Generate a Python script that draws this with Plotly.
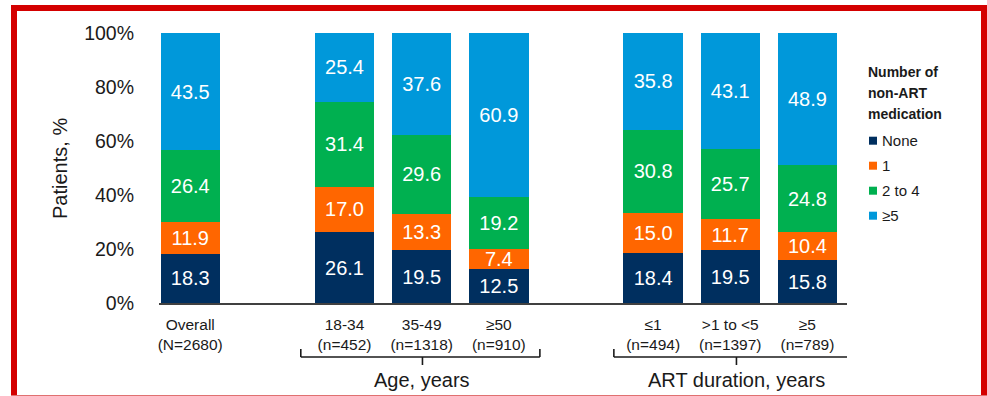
import plotly.graph_objects as go

# ---------------- data ----------------
categories = ["Overall<br>(N=2680)", "18-34<br>(n=452)", "35-49<br>(n=1318)", "≥50<br>(n=910)",
              "≤1<br>(n=494)", ">1 to <5<br>(n=1397)", "≥5<br>(n=789)"]
series_names = ["None", "1", "2 to 4", "≥5"]
none_vals = [18.3, 26.1, 19.5, 12.5, 18.4, 19.5, 15.8]
one_vals = [11.9, 17.0, 13.3, 7.4, 15.0, 11.7, 10.4]
two_four_vals = [26.4, 31.4, 29.6, 19.2, 30.8, 25.7, 24.8]
five_plus_vals = [43.5, 25.4, 37.6, 60.9, 35.8, 43.1, 48.9]
y_ticks = [0, 20, 40, 60, 80, 100]
y_tick_labels = ["0%", "20%", "40%", "60%", "80%", "100%"]
group_labels = ["Age, years", "ART duration, years"]
legend_title_lines = ["Number of", "non-ART", "medication"]

# ---------------- layout / style ----------------
x_slots = [0, 2, 3, 4, 6, 7, 8]
colors = ["#002F5F", "#FF6600", "#00B050", "#0098DA"]
FONT = "Arial, Liberation Sans, sans-serif"
W, H = 987, 396
L, R, T, B = 159, 140, 33, 93
PW, PH = W - L - R, H - T - B


def px_x(px):
    return (px - L) / PW


def px_y(py):
    return (T + PH - py) / PH


fig = go.Figure()
for name, vals, col in zip(series_names,
                           [none_vals, one_vals, two_four_vals, five_plus_vals], colors):
    fig.add_trace(go.Bar(
        x=x_slots, y=vals, name=name, marker=dict(color=col, line=dict(width=0)),
        width=0.77, text=[f"{v:.1f}" for v in vals], textposition="inside",
        insidetextanchor="middle", textangle=0,
        textfont=dict(color="white", size=20, family=FONT),
        showlegend=False, hoverinfo="skip"))

fig.update_layout(
    barmode="stack", barnorm="percent",
    width=W, height=H, margin=dict(l=L, r=R, t=T, b=B, autoexpand=False),
    paper_bgcolor="white", plot_bgcolor="white",
    font=dict(family=FONT, color="#1a1a1a"),
    uniformtext=dict(minsize=20, mode="show"),
    xaxis=dict(range=[-0.405, 8.513], tickmode="array", tickvals=x_slots, ticktext=categories,
               showgrid=False, zeroline=False, showline=True, linecolor="#404040",
               linewidth=2, ticks="", tickfont=dict(size=15.5, family=FONT, color="#1a1a1a"),
               ticklabelstandoff=6, fixedrange=True),
    yaxis=dict(range=[0, 100], tickmode="array", tickvals=y_ticks, ticktext=y_tick_labels,
               showgrid=False, zeroline=False, showline=False, ticks="",
               tickfont=dict(size=19.5, family=FONT, color="#1a1a1a"),
               ticklabelstandoff=24, fixedrange=True),
)

ann = []
shapes = []
# y-axis title
ann.append(dict(text="Patients, %", x=px_x(60), y=px_y(169), xref="paper", yref="paper",
                textangle=-90, showarrow=False, xanchor="center", yanchor="middle",
                font=dict(size=20, family=FONT, color="#1a1a1a")))

# group brackets (data x, paper y)
brackets = [(1.433, 4.532, 3.01, 3.01), (5.491, 8.603, 7.08, 7.075)]
for (x0, x1, xc, xt), lab in zip(brackets, group_labels):
    line = dict(color="#1a1a1a", width=1.6)
    yh, yt, yb = px_y(357), px_y(349), px_y(365)
    shapes += [
        dict(type="line", xref="x", yref="paper", x0=x0, x1=x1, y0=yh, y1=yh, line=line),
        dict(type="line", xref="x", yref="paper", x0=x0, x1=x0, y0=yh, y1=yt, line=line),
        dict(type="line", xref="x", yref="paper", x0=x1, x1=x1, y0=yh, y1=yt, line=line),
        dict(type="line", xref="x", yref="paper", x0=xc, x1=xc, y0=yh, y1=yb, line=line),
    ]
    ann.append(dict(text=lab, x=xt, y=px_y(380), xref="x", yref="paper", showarrow=False,
                    xanchor="center", yanchor="middle",
                    font=dict(size=20, family=FONT, color="#1a1a1a")))

# legend (manual)
for i, line_txt in enumerate(legend_title_lines):
    ann.append(dict(text=f"<b>{line_txt}</b>", x=px_x(866), y=px_y(72 + 21 * i),
                    xref="paper", yref="paper", showarrow=False, xanchor="left",
                    yanchor="middle", font=dict(size=14, family=FONT, color="#1a1a1a")))
for i, (name, col) in enumerate(zip(series_names, colors)):
    cy = 140.7 + 25 * i
    shapes.append(dict(type="rect", xref="paper", yref="paper", x0=px_x(869), x1=px_x(877),
                       y0=px_y(cy + 4), y1=px_y(cy - 4), fillcolor=col, line=dict(width=0)))
    ann.append(dict(text=name, x=px_x(880), y=px_y(cy), xref="paper", yref="paper",
                    showarrow=False, xanchor="left", yanchor="middle",
                    font=dict(size=15, family=FONT, color="#1a1a1a")))

# red frame
red = "#D40000"
shapes += [
    dict(type="line", xref="paper", yref="paper", x0=px_x(14), x1=px_x(14),
         y0=px_y(5), y1=px_y(396), line=dict(color=red, width=6)),
    dict(type="line", xref="paper", yref="paper", x0=px_x(11), x1=px_x(987),
         y0=px_y(8), y1=px_y(8), line=dict(color=red, width=6)),
    dict(type="line", xref="paper", yref="paper", x0=px_x(984), x1=px_x(984),
         y0=px_y(5), y1=px_y(396), line=dict(color=red, width=6)),
    dict(type="line", xref="paper", yref="paper", x0=px_x(11), x1=px_x(987),
         y0=px_y(395.5), y1=px_y(395.5), line=dict(color="#E07070", width=1)),
]

fig.update_layout(annotations=ann, shapes=shapes)
fig.write_html("out.html")
